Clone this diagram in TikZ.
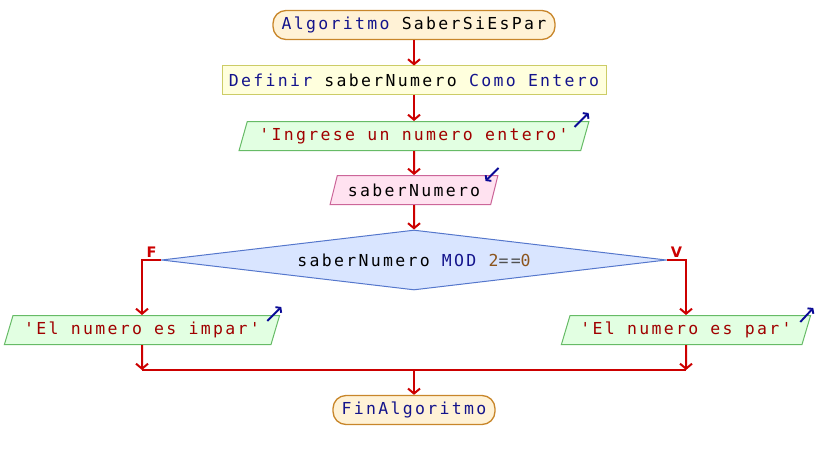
\documentclass[tikz,border=0pt]{standalone}
\usepackage{fontspec}
\setmonofont[LetterSpace=14]{DejaVu Sans Mono}
\newfontfamily\lblfont{DejaVu Sans}
\usetikzlibrary{shapes.geometric,arrows.meta}

\definecolor{flowred}{RGB}{204,0,0}
\definecolor{iconblue}{RGB}{10,10,150}
\definecolor{kwblue}{RGB}{20,20,140}
\definecolor{strred}{RGB}{160,0,0}
\definecolor{numbrown}{RGB}{140,85,30}
\definecolor{opgray}{RGB}{80,80,80}
\definecolor{sefill}{RGB}{255,242,214}
\definecolor{sedraw}{RGB}{200,134,42}
\definecolor{deffill}{RGB}{255,255,221}
\definecolor{defdraw}{RGB}{204,204,102}
\definecolor{outfill}{RGB}{226,255,226}
\definecolor{outdraw}{RGB}{102,187,102}
\definecolor{infill}{RGB}{255,226,240}
\definecolor{indraw}{RGB}{204,102,153}
\definecolor{decfill}{RGB}{217,229,255}
\definecolor{decdraw}{RGB}{85,119,204}

\newcommand\pskw[1]{\textcolor{kwblue}{#1}}
\newcommand\psnum[1]{\textcolor{numbrown}{#1}}
\newcommand\psop[1]{\textcolor{opgray}{#1}}

\tikzset{
  psbox/.style={font=\ttfamily\fontsize{16.5}{18}\selectfont, minimum height=29pt, inner sep=0pt, line width=1pt},
  startend/.style={psbox, rectangle, rounded corners=13pt, fill=sefill, draw=sedraw, line width=1.3pt},
  defbox/.style={psbox, rectangle, fill=deffill, draw=defdraw},
  slanted/.style={psbox, trapezium, trapezium left angle=64, trapezium right angle=116, trapezium stretches=true},
  outbox/.style={slanted, fill=outfill, draw=outdraw, text=strred},
  inbox/.style={slanted, fill=infill, draw=indraw},
  decision/.style={psbox, diamond, aspect=8.4, minimum width=505pt, minimum height=60pt, fill=decfill, draw=decdraw},
  flowline/.style={draw=flowred, line width=2pt},
  flow/.style={flowline, -{Straight Barb[length=5pt,width=12pt]}},
  flowlbl/.style={font=\lblfont\bfseries\fontsize{14.5}{15}\selectfont, text=flowred, above, inner sep=2pt},
  ioicon/.style={draw=iconblue, line width=1.9pt, -{Straight Barb[length=3pt,width=8pt]}}
}

\begin{document}
\begin{tikzpicture}[x=1pt,y=-1pt]
  \useasboundingbox (0,0) rectangle (816,460);

  % bloques
  \node[startend, minimum width=282pt] (inicio) at (414,25) {\pskw{Algoritmo} SaberSiEsPar};
  \node[defbox, minimum width=384pt, minimum height=28pt] (definir) at (414,80) {\pskw{Definir} saberNumero \pskw{Como Entero}};
  \node[outbox, minimum width=350pt] (ingrese) at (414,136) {'Ingrese un numero entero'};
  \node[inbox, minimum width=168pt] (leer) at (414,190) {saberNumero};
  \node[decision] (cond) at (414,260) {saberNumero \pskw{MOD} \psnum{2}\psop{==}\psnum{0}};
  \node[outbox, minimum width=276pt] (impar) at (142,330) {'El numero es impar'};
  \node[outbox, minimum width=250pt] (par) at (686,330) {'El numero es par'};
  \node[startend, minimum width=162pt] (fin) at (414,410) {\pskw{FinAlgoritmo}};

  % iconos de entrada/salida
  \draw[ioicon] ([shift={(-15,6)}]ingrese.top right corner) -- ++(14,-14);
  \draw[ioicon] ([shift={(0,-7)}]leer.top right corner) -- ++(-13,13);
  \draw[ioicon] ([shift={(-13,6)}]impar.top right corner) -- ++(14,-14);
  \draw[ioicon] ([shift={(-11,7)}]par.top right corner) -- ++(13,-14);

  % flechas
  \draw[flow] (inicio) -- (definir);
  \draw[flow] (definir) -- (ingrese);
  \draw[flow] (ingrese) -- (leer);
  \draw[flow] (leer) -- (cond);
  \draw[flow] (cond.west) -| node[flowlbl, pos=0.25] {F} (impar.north);
  \draw[flow] (cond.east) -| node[flowlbl, pos=0.25] {V} (par.north);

  \coordinate (junta) at (414,370);
  \coordinate (juntaI) at (impar.south |- junta);
  \coordinate (juntaP) at (par.south |- junta);
  \draw[flow] (impar) -- (juntaI);
  \draw[flow] (par) -- (juntaP);
  \draw[flowline] (juntaI) -- (juntaP);
  \draw[flow] (junta) -- (fin);
\end{tikzpicture}
\end{document}
